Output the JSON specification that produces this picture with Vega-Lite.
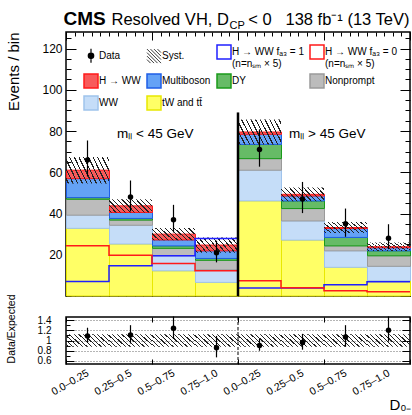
{
  "$schema": "https://vega.github.io/schema/vega-lite/v6.json",
  "background": "white",
  "padding": {"left": 5, "top": 8, "right": 0, "bottom": 0},
  "bounds": "flush",
  "spacing": 21,
  "config": {
    "font": "Liberation Sans",
    "view": {"stroke": "black", "strokeWidth": 1.5},
    "axis": {"domain": false, "grid": false, "tickColor": "black", "tickWidth": 1, "labelColor": "black", "titleColor": "black", "titleFontWeight": "normal", "labelFont": "Liberation Sans", "titleFont": "Liberation Sans", "labelOverlap": false, "labelFlush": false, "labelBound": false}
  },
  "datasets": {
    "stack": [
      {"bin": 1, "lo": 0, "hi": 1, "process": "tW and tt\u0304", "value": 32.8},
      {"bin": 1, "lo": 0, "hi": 1, "process": "WW", "value": 6.4},
      {"bin": 1, "lo": 0, "hi": 1, "process": "Nonprompt", "value": 7.7},
      {"bin": 1, "lo": 0, "hi": 1, "process": "DY", "value": 0.8},
      {"bin": 1, "lo": 0, "hi": 1, "process": "Multiboson", "value": 9.2},
      {"bin": 1, "lo": 0, "hi": 1, "process": "H \u2192 WW", "value": 4.1},
      {"bin": 2, "lo": 1, "hi": 2, "process": "tW and tt\u0304", "value": 25.2},
      {"bin": 2, "lo": 1, "hi": 2, "process": "WW", "value": 9.1},
      {"bin": 2, "lo": 1, "hi": 2, "process": "Nonprompt", "value": 2.5},
      {"bin": 2, "lo": 1, "hi": 2, "process": "DY", "value": 0.8},
      {"bin": 2, "lo": 1, "hi": 2, "process": "Multiboson", "value": 2.9},
      {"bin": 2, "lo": 1, "hi": 2, "process": "H \u2192 WW", "value": 3.2},
      {"bin": 3, "lo": 2, "hi": 3, "process": "tW and tt\u0304", "value": 12.2},
      {"bin": 3, "lo": 2, "hi": 3, "process": "WW", "value": 7.3},
      {"bin": 3, "lo": 2, "hi": 3, "process": "Nonprompt", "value": 3.6},
      {"bin": 3, "lo": 2, "hi": 3, "process": "DY", "value": 1.2},
      {"bin": 3, "lo": 2, "hi": 3, "process": "Multiboson", "value": 2.9},
      {"bin": 3, "lo": 2, "hi": 3, "process": "H \u2192 WW", "value": 2.8},
      {"bin": 4, "lo": 3, "hi": 4, "process": "tW and tt\u0304", "value": 6.6},
      {"bin": 4, "lo": 3, "hi": 4, "process": "WW", "value": 6.1},
      {"bin": 4, "lo": 3, "hi": 4, "process": "Nonprompt", "value": 4.6},
      {"bin": 4, "lo": 3, "hi": 4, "process": "DY", "value": 0.9},
      {"bin": 4, "lo": 3, "hi": 4, "process": "Multiboson", "value": 3.7},
      {"bin": 4, "lo": 3, "hi": 4, "process": "H \u2192 WW", "value": 2.8},
      {"bin": 5, "lo": 4, "hi": 5, "process": "tW and tt\u0304", "value": 46.1},
      {"bin": 5, "lo": 4, "hi": 5, "process": "WW", "value": 14.9},
      {"bin": 5, "lo": 4, "hi": 5, "process": "Nonprompt", "value": 5.6},
      {"bin": 5, "lo": 4, "hi": 5, "process": "DY", "value": 6.9},
      {"bin": 5, "lo": 4, "hi": 5, "process": "Multiboson", "value": 4.9},
      {"bin": 5, "lo": 4, "hi": 5, "process": "H \u2192 WW", "value": 1.1},
      {"bin": 6, "lo": 5, "hi": 6, "process": "tW and tt\u0304", "value": 27.1},
      {"bin": 6, "lo": 5, "hi": 6, "process": "WW", "value": 9.3},
      {"bin": 6, "lo": 5, "hi": 6, "process": "Nonprompt", "value": 6.0},
      {"bin": 6, "lo": 5, "hi": 6, "process": "DY", "value": 3.7},
      {"bin": 6, "lo": 5, "hi": 6, "process": "Multiboson", "value": 2.4},
      {"bin": 6, "lo": 5, "hi": 6, "process": "H \u2192 WW", "value": 0.8},
      {"bin": 7, "lo": 6, "hi": 7, "process": "tW and tt\u0304", "value": 13.9},
      {"bin": 7, "lo": 6, "hi": 7, "process": "WW", "value": 8.0},
      {"bin": 7, "lo": 6, "hi": 7, "process": "Nonprompt", "value": 2.4},
      {"bin": 7, "lo": 6, "hi": 7, "process": "DY", "value": 4.1},
      {"bin": 7, "lo": 6, "hi": 7, "process": "Multiboson", "value": 4.3},
      {"bin": 7, "lo": 6, "hi": 7, "process": "H \u2192 WW", "value": 0.5},
      {"bin": 8, "lo": 7, "hi": 8, "process": "tW and tt\u0304", "value": 7.4},
      {"bin": 8, "lo": 7, "hi": 8, "process": "WW", "value": 7.0},
      {"bin": 8, "lo": 7, "hi": 8, "process": "Nonprompt", "value": 5.1},
      {"bin": 8, "lo": 7, "hi": 8, "process": "DY", "value": 2.4},
      {"bin": 8, "lo": 7, "hi": 8, "process": "Multiboson", "value": 1.5},
      {"bin": 8, "lo": 7, "hi": 8, "process": "H \u2192 WW", "value": 0.5}
    ],
    "syst": [
      {"bin": 1, "lo": 0, "hi": 1, "ylo": 54.6, "yhi": 67.4},
      {"bin": 2, "lo": 1, "hi": 2, "ylo": 40.5, "yhi": 46.9},
      {"bin": 3, "lo": 2, "hi": 3, "ylo": 27.0, "yhi": 33.0},
      {"bin": 4, "lo": 3, "hi": 4, "ylo": 21.0, "yhi": 28.4},
      {"bin": 5, "lo": 4, "hi": 5, "ylo": 73.4, "yhi": 85.6},
      {"bin": 6, "lo": 5, "hi": 6, "ylo": 46.0, "yhi": 52.6},
      {"bin": 7, "lo": 6, "hi": 7, "ylo": 30.5, "yhi": 35.9},
      {"bin": 8, "lo": 7, "hi": 8, "ylo": 21.8, "yhi": 26.0}
    ],
    "signal": [
      {"bin": 1, "lo": 0, "hi": 1, "hypothesis": "fa3=1", "value": 7.0},
      {"bin": 2, "lo": 1, "hi": 2, "hypothesis": "fa3=1", "value": 14.7},
      {"bin": 3, "lo": 2, "hi": 3, "hypothesis": "fa3=1", "value": 19.5},
      {"bin": 4, "lo": 3, "hi": 4, "hypothesis": "fa3=1", "value": 27.9},
      {"bin": 5, "lo": 4, "hi": 5, "hypothesis": "fa3=1", "value": 3.9},
      {"bin": 6, "lo": 5, "hi": 6, "hypothesis": "fa3=1", "value": 3.9},
      {"bin": 7, "lo": 6, "hi": 7, "hypothesis": "fa3=1", "value": 5.5},
      {"bin": 8, "lo": 7, "hi": 8, "hypothesis": "fa3=1", "value": 6.9},
      {"bin": 1, "lo": 0, "hi": 1, "hypothesis": "fa3=0", "value": 24.4},
      {"bin": 2, "lo": 1, "hi": 2, "hypothesis": "fa3=0", "value": 19.8},
      {"bin": 3, "lo": 2, "hi": 3, "hypothesis": "fa3=0", "value": 15.8},
      {"bin": 4, "lo": 3, "hi": 4, "hypothesis": "fa3=0", "value": 12.2},
      {"bin": 5, "lo": 4, "hi": 5, "hypothesis": "fa3=0", "value": 7.4},
      {"bin": 6, "lo": 5, "hi": 6, "hypothesis": "fa3=0", "value": 4.0},
      {"bin": 7, "lo": 6, "hi": 7, "hypothesis": "fa3=0", "value": 2.6},
      {"bin": 8, "lo": 7, "hi": 8, "hypothesis": "fa3=0", "value": 2.1}
    ],
    "obs": [
      {"bin": 1, "xc": 0.5, "n": 66, "nlo": 57.9, "nhi": 75.4},
      {"bin": 2, "xc": 1.5, "n": 48, "nlo": 41.0, "nhi": 56.0},
      {"bin": 3, "xc": 2.5, "n": 37, "nlo": 30.8, "nhi": 44.2},
      {"bin": 4, "xc": 3.5, "n": 21, "nlo": 16.3, "nhi": 26.8},
      {"bin": 5, "xc": 4.5, "n": 71, "nlo": 62.7, "nhi": 80.8},
      {"bin": 6, "xc": 5.5, "n": 47, "nlo": 40.2, "nhi": 55.3},
      {"bin": 7, "xc": 6.5, "n": 35, "nlo": 28.7, "nhi": 42.4},
      {"bin": 8, "xc": 7.5, "n": 28, "nlo": 22.7, "nhi": 34.8}
    ],
    "ratio": [
      {"bin": 1, "xc": 0.5, "r": 1.09, "rlo": 0.96, "rhi": 1.25},
      {"bin": 2, "xc": 1.5, "r": 1.11, "rlo": 0.94, "rhi": 1.30},
      {"bin": 3, "xc": 2.5, "r": 1.24, "rlo": 1.03, "rhi": 1.47},
      {"bin": 4, "xc": 3.5, "r": 0.86, "rlo": 0.67, "rhi": 1.09},
      {"bin": 5, "xc": 4.5, "r": 0.90, "rlo": 0.80, "rhi": 1.03},
      {"bin": 6, "xc": 5.5, "r": 0.96, "rlo": 0.82, "rhi": 1.13},
      {"bin": 7, "xc": 6.5, "r": 1.07, "rlo": 0.88, "rhi": 1.30},
      {"bin": 8, "xc": 7.5, "r": 1.20, "rlo": 0.98, "rhi": 1.47}
    ],
    "rsyst": [
      {"bin": 1, "lo": 0, "hi": 1, "ylo": 0.88, "yhi": 1.12},
      {"bin": 2, "lo": 1, "hi": 2, "ylo": 0.88, "yhi": 1.12},
      {"bin": 3, "lo": 2, "hi": 3, "ylo": 0.88, "yhi": 1.12},
      {"bin": 4, "lo": 3, "hi": 4, "ylo": 0.88, "yhi": 1.12},
      {"bin": 5, "lo": 4, "hi": 5, "ylo": 0.88, "yhi": 1.12},
      {"bin": 6, "lo": 5, "hi": 6, "ylo": 0.88, "yhi": 1.12},
      {"bin": 7, "lo": 6, "hi": 7, "ylo": 0.88, "yhi": 1.12},
      {"bin": 8, "lo": 7, "hi": 8, "ylo": 0.88, "yhi": 1.12}
    ],
    "regions": [
      {"region": "m\u2097\u2097 < 45 GeV", "start": 0, "end": 4},
      {"region": "m\u2097\u2097 > 45 GeV", "start": 4, "end": 8}
    ]
  },
  "vconcat": [
    {
      "width": 344,
      "height": 264,
      "resolve": {"axis": {"x": "independent", "y": "independent"}},
      "layer": [
        {
          "data": {"name": "stack"},
          "transform": [{"calculate": "indexof(['tW and tt\u0304', 'WW', 'Nonprompt', 'DY', 'Multiboson', 'H \u2192 WW'], datum.process)", "as": "stack_order"}],
          "mark": {"type": "bar", "binSpacing": 0, "strokeWidth": 1},
          "encoding": {
            "x": {"field": "lo", "type": "quantitative", "bin": {"binned": true, "step": 1}, "scale": {"domain": [0, 8], "nice": false, "zero": false},
                  "axis": {"orient": "bottom", "values": [0, 2, 4, 6, 8], "tickSize": -8, "labels": false, "title": null}},
            "x2": {"field": "hi"},
            "y": {"field": "value", "type": "quantitative", "stack": "zero", "scale": {"domain": [0, 128], "nice": false, "zero": false},
                  "axis": {"orient": "left", "values": [20, 40, 60, 80, 100, 120], "tickSize": -10, "labelPadding": 14, "labelFontSize": 12,
                           "title": "Events / bin", "titleFontSize": 15, "titleAngle": 270, "titleAlign": "right", "titleBaseline": "top", "titleX": -60, "titleY": 0}},
            "order": {"field": "stack_order", "type": "quantitative", "sort": "ascending"},
            "fill": {
              "field": "process", "type": "nominal",
              "scale": {
                "domain": ["tW and tt\u0304", "WW", "Nonprompt", "DY", "Multiboson", "H \u2192 WW", "Data", "Syst.", "H \u2192 WW f\u2090\u2083 = 1", "H \u2192 WW f\u2090\u2083 = 0"],
                "range": ["#ffff66", "#c5ddf8", "#bcbcbc", "#66bb66", "#64a2f6", "#f85a5a", "black", "transparent", "white", "white"]
              },
              "legend": {
                "orient": "none", "legendX": 20, "legendY": 15, "padding": 0,
                "columns": 4, "gridAlign": "each", "columnPadding": 3, "rowPadding": 2,
                "title": null, "symbolSize": 196, "symbolOpacity": 1,
                "symbolType": {"expr": "datum.value === 'Data' ? 'M0,-1V1M-0.39,0a0.39,0.39 0 1,0 0.78,0a0.39,0.39 0 1,0 -0.78,0Z' : datum.value === 'Syst.' ? 'M-1,0.5L-0.5,1M-1,0L0,1M-1,-0.5L0.5,1M-1,-1L1,1M-0.5,-1L1,0.5M0,-1L1,0M0.5,-1L1,-0.5' : 'square'"},
                "symbolStrokeColor": {"expr": "datum.value === 'Data' ? 'black' : datum.value === 'Syst.' ? '#222' : indexof(datum.value, '= 1') > 0 ? '#2020ff' : indexof(datum.value, '= 0') > 0 ? '#ff1a1a' : datum.value === 'H \u2192 WW' ? '#ff1a1a' : datum.value === 'Multiboson' ? '#1e5ee6' : datum.value === 'DY' ? '#1a9a1a' : datum.value === 'Nonprompt' ? '#9a9a9a' : datum.value === 'WW' ? '#9fc3ec' : '#e8e800'"},
                "symbolStrokeWidth": {"expr": "datum.value === 'Syst.' ? 0.9 : datum.value === 'Data' ? 1.2 : 1.5"},
                "labelFontSize": 10, "labelFont": "Liberation Sans", "labelColor": "black", "labelOffset": 3, "labelLimit": 200,
                "values": ["Data", "H \u2192 WW", "Nonprompt", "Syst.", "Multiboson", "WW", "H \u2192 WW f\u2090\u2083 = 1", "DY", "tW and tt\u0304", "H \u2192 WW f\u2090\u2083 = 0"],
                "labelExpr": "indexof(datum.label, '=') > 0 ? [datum.label, '(n=n\u209b\u2098 \u00d7 5)'] : datum.label"
              }
            },
            "stroke": {
              "field": "process", "type": "nominal",
              "scale": {"domain": ["tW and tt\u0304", "WW", "Nonprompt", "DY", "Multiboson", "H \u2192 WW"], "range": ["#e8e800", "#9fc3ec", "#9a9a9a", "#1a9a1a", "#1e5ee6", "#ff1a1a"]},
              "legend": null
            }
          }
        },
        {
          "data": {"name": "syst"},
          "mark": {"type": "rect", "strokeWidth": 0, "fill": {"gradient": "linear", "x1": 0, "y1": 1, "x2": 1.2, "y2": 0.64, "stops": [
            {"offset": 0, "color": "rgba(0,0,0,0)"},
            {"offset": 0.0307, "color": "rgba(0,0,0,0)"}, {"offset": 0.0307, "color": "#222"}, {"offset": 0.0527, "color": "#222"}, {"offset": 0.0527, "color": "rgba(0,0,0,0)"},
            {"offset": 0.114, "color": "rgba(0,0,0,0)"}, {"offset": 0.114, "color": "#222"}, {"offset": 0.136, "color": "#222"}, {"offset": 0.136, "color": "rgba(0,0,0,0)"},
            {"offset": 0.1973, "color": "rgba(0,0,0,0)"}, {"offset": 0.1973, "color": "#222"}, {"offset": 0.2193, "color": "#222"}, {"offset": 0.2193, "color": "rgba(0,0,0,0)"},
            {"offset": 0.2807, "color": "rgba(0,0,0,0)"}, {"offset": 0.2807, "color": "#222"}, {"offset": 0.3027, "color": "#222"}, {"offset": 0.3027, "color": "rgba(0,0,0,0)"},
            {"offset": 0.364, "color": "rgba(0,0,0,0)"}, {"offset": 0.364, "color": "#222"}, {"offset": 0.386, "color": "#222"}, {"offset": 0.386, "color": "rgba(0,0,0,0)"},
            {"offset": 0.4473, "color": "rgba(0,0,0,0)"}, {"offset": 0.4473, "color": "#222"}, {"offset": 0.4693, "color": "#222"}, {"offset": 0.4693, "color": "rgba(0,0,0,0)"},
            {"offset": 0.5307, "color": "rgba(0,0,0,0)"}, {"offset": 0.5307, "color": "#222"}, {"offset": 0.5527, "color": "#222"}, {"offset": 0.5527, "color": "rgba(0,0,0,0)"},
            {"offset": 0.614, "color": "rgba(0,0,0,0)"}, {"offset": 0.614, "color": "#222"}, {"offset": 0.636, "color": "#222"}, {"offset": 0.636, "color": "rgba(0,0,0,0)"},
            {"offset": 0.6973, "color": "rgba(0,0,0,0)"}, {"offset": 0.6973, "color": "#222"}, {"offset": 0.7193, "color": "#222"}, {"offset": 0.7193, "color": "rgba(0,0,0,0)"},
            {"offset": 0.7807, "color": "rgba(0,0,0,0)"}, {"offset": 0.7807, "color": "#222"}, {"offset": 0.8027, "color": "#222"}, {"offset": 0.8027, "color": "rgba(0,0,0,0)"},
            {"offset": 0.864, "color": "rgba(0,0,0,0)"}, {"offset": 0.864, "color": "#222"}, {"offset": 0.886, "color": "#222"}, {"offset": 0.886, "color": "rgba(0,0,0,0)"},
            {"offset": 0.9473, "color": "rgba(0,0,0,0)"}, {"offset": 0.9473, "color": "#222"}, {"offset": 0.9693, "color": "#222"}, {"offset": 0.9693, "color": "rgba(0,0,0,0)"},
            {"offset": 1, "color": "rgba(0,0,0,0)"}]}},
          "encoding": {
            "x": {"field": "lo", "type": "quantitative", "scale": {"domain": [0, 8], "nice": false, "zero": false},
                  "axis": {"orient": "bottom", "values": [0, 0.2, 0.4, 0.6, 0.8, 1, 1.2, 1.4, 1.6, 1.8, 2, 2.2, 2.4, 2.6, 2.8, 3, 3.2, 3.4, 3.6, 3.8, 4, 4.2, 4.4, 4.6, 4.8, 5, 5.2, 5.4, 5.6, 5.8, 6, 6.2, 6.4, 6.6, 6.8, 7, 7.2, 7.4, 7.6, 7.8, 8], "tickSize": -4, "labels": false, "title": null}},
            "x2": {"field": "hi"},
            "y": {"field": "ylo", "type": "quantitative", "scale": {"domain": [0, 128], "nice": false, "zero": false},
                  "axis": {"orient": "left", "values": [0, 5, 10, 15, 20, 25, 30, 35, 40, 45, 50, 55, 60, 65, 70, 75, 80, 85, 90, 95, 100, 105, 110, 115, 120, 125], "tickSize": -5, "labels": false,
                           "title": "CMS", "titleFontSize": 19, "titleFontWeight": "bold", "titleAngle": 0, "titleAlign": "left", "titleBaseline": "alphabetic", "titleX": -3, "titleY": -8}},
            "y2": {"field": "yhi"}
          }
        },
        {
          "data": {"name": "signal"},
          "transform": [{"filter": "datum.hypothesis === 'fa3=1'"}, {"fold": ["lo", "hi"], "as": ["edge", "xpos"]}],
          "mark": {"type": "line", "strokeWidth": 1.5, "color": "#2020ff"},
          "encoding": {
            "x": {"field": "xpos", "type": "quantitative", "scale": {"domain": [0, 8], "nice": false, "zero": false},
                  "axis": {"orient": "top", "values": [0, 2, 4, 6, 8], "tickSize": -8, "labels": false,
                           "title": "Resolved VH, D", "titleFontSize": 16.5, "titleAngle": 0, "titleAlign": "left", "titleBaseline": "alphabetic", "titleX": 45, "titleY": -8}},
            "y": {"field": "value", "type": "quantitative", "scale": {"domain": [0, 128], "nice": false, "zero": false},
                  "axis": {"orient": "right", "values": [0, 20, 40, 60, 80, 100, 120], "tickSize": -10, "labels": false,
                           "title": "< 0\u00a0\u00a0\u00a0138 fb\u207b\u00b9 (13 TeV)", "titleFontSize": 16.5, "titleAngle": 0, "titleAlign": "right", "titleBaseline": "alphabetic", "titleX": -1, "titleY": -8}},
            "order": [{"field": "bin", "type": "quantitative", "sort": "ascending"}, {"field": "edge", "type": "nominal", "sort": "descending"}]
          }
        },
        {
          "data": {"name": "signal"},
          "transform": [{"filter": "datum.hypothesis === 'fa3=0'"}, {"fold": ["lo", "hi"], "as": ["edge", "xpos"]}],
          "mark": {"type": "line", "strokeWidth": 1.5, "color": "#ff1a1a"},
          "encoding": {
            "x": {"field": "xpos", "type": "quantitative", "scale": {"domain": [0, 8], "nice": false, "zero": false}, "axis": null},
            "y": {"field": "value", "type": "quantitative", "scale": {"domain": [0, 128], "nice": false, "zero": false}, "axis": null},
            "order": [{"field": "bin", "type": "quantitative", "sort": "ascending"}, {"field": "edge", "type": "nominal", "sort": "descending"}]
          }
        },
        {
          "data": {"name": "obs"},
          "mark": {"type": "rule", "strokeWidth": 1.2, "color": "black"},
          "encoding": {
            "x": {"field": "xc", "type": "quantitative", "scale": {"domain": [0, 8], "nice": false, "zero": false},
                  "axis": {"orient": "top", "values": [0, 0.2, 0.4, 0.6, 0.8, 1, 1.2, 1.4, 1.6, 1.8, 2, 2.2, 2.4, 2.6, 2.8, 3, 3.2, 3.4, 3.6, 3.8, 4, 4.2, 4.4, 4.6, 4.8, 5, 5.2, 5.4, 5.6, 5.8, 6, 6.2, 6.4, 6.6, 6.8, 7, 7.2, 7.4, 7.6, 7.8, 8], "tickSize": -4, "labels": false,
                           "title": "CP", "titleFontSize": 11, "titleAngle": 0, "titleAlign": "left", "titleBaseline": "alphabetic", "titleX": 163, "titleY": -4}},
            "y": {"field": "nlo", "type": "quantitative", "scale": {"domain": [0, 128], "nice": false, "zero": false},
                  "axis": {"orient": "right", "values": [0, 5, 10, 15, 20, 25, 30, 35, 40, 45, 50, 55, 60, 65, 70, 75, 80, 85, 90, 95, 100, 105, 110, 115, 120, 125], "tickSize": -5, "labels": false, "title": null}},
            "y2": {"field": "nhi"}
          }
        },
        {
          "data": {"name": "obs"},
          "mark": {"type": "point", "filled": true, "size": 30, "color": "black", "opacity": 1},
          "encoding": {
            "x": {"field": "xc", "type": "quantitative", "scale": {"domain": [0, 8], "nice": false, "zero": false}, "axis": null},
            "y": {"field": "n", "type": "quantitative", "scale": {"domain": [0, 128], "nice": false, "zero": false}, "axis": null}
          }
        },
        {
          "data": {"name": "regions"},
          "transform": [{"filter": "datum.start > 0"}],
          "mark": {"type": "rule", "strokeWidth": 2.5, "color": "black"},
          "encoding": {
            "x": {"field": "start", "type": "quantitative", "scale": {"domain": [0, 8], "nice": false, "zero": false}, "axis": null},
            "y": {"datum": 0, "type": "quantitative", "scale": {"domain": [0, 128], "nice": false, "zero": false}, "axis": null},
            "y2": {"datum": 89}
          }
        },
        {
          "data": {"name": "regions"},
          "mark": {"type": "text", "align": "left", "baseline": "alphabetic", "dx": 51, "fontSize": 13.5, "font": "Liberation Sans", "color": "black"},
          "encoding": {
            "x": {"field": "start", "type": "quantitative", "scale": {"domain": [0, 8], "nice": false, "zero": false}, "axis": null},
            "y": {"datum": 76.5, "type": "quantitative", "scale": {"domain": [0, 128], "nice": false, "zero": false}, "axis": null},
            "text": {"field": "region"}
          }
        }
      ]
    },
    {
      "width": 344,
      "height": 47,
      "resolve": {"axis": {"x": "independent", "y": "independent"}},
      "layer": [
        {
          "data": {"name": "rsyst"},
          "mark": {"type": "rect", "strokeWidth": 0, "fill": {"gradient": "linear", "x1": 0, "y1": 1, "x2": 1.2, "y2": 0.64, "stops": [
            {"offset": 0, "color": "rgba(0,0,0,0)"},
            {"offset": 0.0307, "color": "rgba(0,0,0,0)"}, {"offset": 0.0307, "color": "#222"}, {"offset": 0.0527, "color": "#222"}, {"offset": 0.0527, "color": "rgba(0,0,0,0)"},
            {"offset": 0.114, "color": "rgba(0,0,0,0)"}, {"offset": 0.114, "color": "#222"}, {"offset": 0.136, "color": "#222"}, {"offset": 0.136, "color": "rgba(0,0,0,0)"},
            {"offset": 0.1973, "color": "rgba(0,0,0,0)"}, {"offset": 0.1973, "color": "#222"}, {"offset": 0.2193, "color": "#222"}, {"offset": 0.2193, "color": "rgba(0,0,0,0)"},
            {"offset": 0.2807, "color": "rgba(0,0,0,0)"}, {"offset": 0.2807, "color": "#222"}, {"offset": 0.3027, "color": "#222"}, {"offset": 0.3027, "color": "rgba(0,0,0,0)"},
            {"offset": 0.364, "color": "rgba(0,0,0,0)"}, {"offset": 0.364, "color": "#222"}, {"offset": 0.386, "color": "#222"}, {"offset": 0.386, "color": "rgba(0,0,0,0)"},
            {"offset": 0.4473, "color": "rgba(0,0,0,0)"}, {"offset": 0.4473, "color": "#222"}, {"offset": 0.4693, "color": "#222"}, {"offset": 0.4693, "color": "rgba(0,0,0,0)"},
            {"offset": 0.5307, "color": "rgba(0,0,0,0)"}, {"offset": 0.5307, "color": "#222"}, {"offset": 0.5527, "color": "#222"}, {"offset": 0.5527, "color": "rgba(0,0,0,0)"},
            {"offset": 0.614, "color": "rgba(0,0,0,0)"}, {"offset": 0.614, "color": "#222"}, {"offset": 0.636, "color": "#222"}, {"offset": 0.636, "color": "rgba(0,0,0,0)"},
            {"offset": 0.6973, "color": "rgba(0,0,0,0)"}, {"offset": 0.6973, "color": "#222"}, {"offset": 0.7193, "color": "#222"}, {"offset": 0.7193, "color": "rgba(0,0,0,0)"},
            {"offset": 0.7807, "color": "rgba(0,0,0,0)"}, {"offset": 0.7807, "color": "#222"}, {"offset": 0.8027, "color": "#222"}, {"offset": 0.8027, "color": "rgba(0,0,0,0)"},
            {"offset": 0.864, "color": "rgba(0,0,0,0)"}, {"offset": 0.864, "color": "#222"}, {"offset": 0.886, "color": "#222"}, {"offset": 0.886, "color": "rgba(0,0,0,0)"},
            {"offset": 0.9473, "color": "rgba(0,0,0,0)"}, {"offset": 0.9473, "color": "#222"}, {"offset": 0.9693, "color": "#222"}, {"offset": 0.9693, "color": "rgba(0,0,0,0)"},
            {"offset": 1, "color": "rgba(0,0,0,0)"}]}},
          "encoding": {
            "x": {"field": "lo", "type": "quantitative", "scale": {"domain": [0, 8], "nice": false, "zero": false},
                  "axis": {"orient": "bottom", "values": [0.5, 1.5, 2.5, 3.5, 4.5, 5.5, 6.5, 7.5], "ticks": false, "labelPadding": 8, "labelAngle": -30, "labelAlign": "right", "labelBaseline": "middle", "labelFontSize": 10.5,
                           "labelExpr": "['0.0\u20130.25', '0.25\u20130.5', '0.5\u20130.75', '0.75\u20131.0'][floor(datum.value) % 4]",
                           "title": "D\u2080\u208b", "titleFontSize": 15, "titleAngle": 0, "titleAlign": "right", "titleBaseline": "alphabetic", "titleX": 345, "titleY": 45}},
            "x2": {"field": "hi"},
            "y": {"field": "ylo", "type": "quantitative", "scale": {"domain": [0.54, 1.46], "nice": false, "zero": false},
                  "axis": {"orient": "left", "values": [0.6, 0.8, 1, 1.2, 1.4], "format": ".2~f", "tickSize": -8, "labelPadding": 23, "labelFontSize": 10,
                           "grid": true, "gridDash": [1, 2], "gridColor": "#444", "gridWidth": 0.8,
                           "title": "Data/Expected", "titleFontSize": 10.5, "titleAngle": 270, "titleAlign": "right", "titleBaseline": "top", "titleX": -60, "titleY": -23}},
            "y2": {"field": "yhi"}
          }
        },
        {
          "data": {"name": "regions"},
          "transform": [{"filter": "datum.start > 0"}],
          "mark": {"type": "rule", "strokeDash": [3, 2], "strokeWidth": 1, "color": "black"},
          "encoding": {
            "x": {"field": "start", "type": "quantitative", "scale": {"domain": [0, 8], "nice": false, "zero": false},
                  "axis": {"orient": "bottom", "values": [0, 2, 4, 6, 8], "tickSize": -5, "labels": false, "title": null}}
          }
        },
        {
          "data": {"name": "ratio"},
          "mark": {"type": "rule", "strokeWidth": 1.2, "color": "black"},
          "encoding": {
            "x": {"field": "xc", "type": "quantitative", "scale": {"domain": [0, 8], "nice": false, "zero": false},
                  "axis": {"orient": "top", "values": [0, 2, 4, 6, 8], "tickSize": -5, "labels": false, "title": null}},
            "y": {"field": "rlo", "type": "quantitative", "scale": {"domain": [0.54, 1.46], "nice": false, "zero": false},
                  "axis": {"orient": "right", "values": [0.6, 0.8, 1, 1.2, 1.4], "tickSize": -8, "labels": false, "title": null}},
            "y2": {"field": "rhi"}
          }
        },
        {
          "data": {"name": "ratio"},
          "mark": {"type": "point", "filled": true, "size": 30, "color": "black", "opacity": 1},
          "encoding": {
            "x": {"field": "xc", "type": "quantitative", "scale": {"domain": [0, 8], "nice": false, "zero": false}, "axis": null},
            "y": {"field": "r", "type": "quantitative", "scale": {"domain": [0.54, 1.46], "nice": false, "zero": false},
                  "axis": {"orient": "left", "values": [0.6, 0.7, 0.8, 0.9, 1, 1.1, 1.2, 1.3, 1.4], "tickSize": -4, "labels": false, "title": null}}
          }
        }
      ]
    }
  ]
}
